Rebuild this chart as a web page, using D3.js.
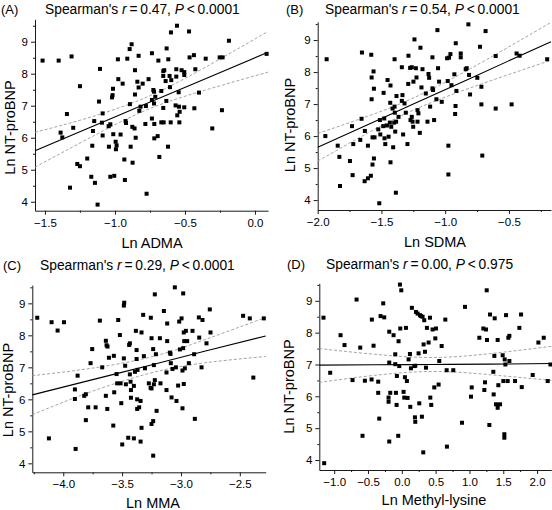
<!DOCTYPE html>
<html><head><meta charset="utf-8">
<script src="https://cdn.jsdelivr.net/npm/d3@7"></script>
<style>
body{margin:0;background:#fff}
svg{display:block}
text{font-family:"Liberation Sans",Arial,Helvetica,sans-serif;fill:#000}
</style>
</head><body>
<svg id="chart" width="552" height="510"></svg>
<script>
// ---------- data ----------
const yLabel = "Ln NT-proBNP";
const panelLetters = ["(A)", "(B)", "(C)", "(D)"];
const rhoValues = ["0.47", "0.54", "0.29", "0.00"];
const pValues = ["0.0001", "0.0001", "0.0001", "0.975"];
const xLabels = ["Ln ADMA", "Ln SDMA", "Ln MMA", "Ln Methyl-lysine"];
const yTicks = [4, 5, 6, 7, 8, 9];
const xTicksA = [-1.5, -1.0, -0.5, 0.0];
const xTicksB = [-2.0, -1.5, -1.0, -0.5];
const xTicksC = [-4.0, -3.5, -3.0, -2.5];
const xTicksD = [-1.0, -0.5, 0.0, 0.5, 1.0, 1.5, 2.0];

const admaX = [-1.517,-1.402,-1.310,-1.250,-1.343,-1.388,-1.376,-1.298,-1.321,-1.269,-1.250,-1.198,-1.162,-1.157,-1.148,-1.114,-1.107,-1.088,-1.093,-1.088,-1.169,-1.143,-1.124,-1.045,-1.033,-1.043,-1.033,-1.005,-1.021,-1.017,-1.014,-1.012,-0.995,-0.988,-0.993,-0.979,-0.976,-0.960,-0.945,-0.933,-0.929,-0.921,-0.924,-0.912,-0.895,-0.881,-0.893,-0.888,-0.876,-0.860,-0.852,-0.874,-0.857,-0.857,-0.840,-0.831,-0.831,-0.802,-0.826,-0.817,-0.779,-0.783,-0.774,-0.760,-0.736,-0.736,-0.721,-0.726,-0.712,-0.736,-0.721,-0.719,-0.695,-0.719,-0.683,-0.690,-0.655,-0.648,-0.655,-0.638,-0.631,-0.619,-0.610,-0.607,-0.598,-0.669,-0.633,-0.655,-0.669,-0.652,-0.602,-0.621,-0.600,-0.557,-0.562,-0.562,-0.567,-0.543,-0.555,-0.538,-0.545,-0.540,-0.524,-0.505,-0.505,-0.505,-0.471,-0.467,-0.436,-0.426,-0.433,-0.400,-0.352,-0.305,-0.252,-0.231,-0.236,-0.186,0.083];
const admaY = [8.41,8.41,8.54,7.61,6.74,6.16,6.01,6.31,4.44,5.18,5.11,5.35,5.75,6.21,6.52,7.13,8.15,6.76,6.47,6.07,4.78,4.59,3.91,6.36,6.42,5.72,4.78,4.81,7.26,7.33,7.53,6.11,5.875,5.76,5.64,8.45,7.83,6.10,7.69,5.32,4.68,6.46,6.52,8.47,8.77,8.92,7.05,5.72,6.34,6.29,6.00,5.22,8.11,7.35,7.75,7.57,8.56,7.69,6.84,6.97,6.99,6.43,4.25,7.83,8.64,6.60,7.44,7.49,7.28,7.18,7.07,6.43,6.05,5.98,5.40,8.41,8.08,8.11,7.93,7.77,8.79,8.45,7.93,7.58,7.80,7.46,7.15,6.93,6.48,6.48,6.48,5.72,9.29,9.50,8.14,7.91,7.01,6.97,6.70,6.81,7.42,6.48,8.11,8.05,7.96,6.95,9.32,8.51,8.58,8.14,6.92,7.41,8.47,6.29,8.51,8.51,6.86,9.03,8.62];

const sdmaX = [-1.93,-1.94,-1.843,-1.830,-1.825,-1.731,-1.747,-1.721,-1.726,-1.653,-1.656,-1.666,-1.630,-1.632,-1.606,-1.606,-1.580,-1.577,-1.577,-1.570,-1.562,-1.559,-1.554,-1.570,-1.559,-1.583,-1.525,-1.512,-1.509,-1.517,-1.486,-1.483,-1.478,-1.476,-1.470,-1.457,-1.452,-1.444,-1.434,-1.431,-1.429,-1.423,-1.429,-1.413,-1.408,-1.400,-1.397,-1.397,-1.395,-1.392,-1.385,-1.387,-1.382,-1.366,-1.340,-1.335,-1.340,-1.330,-1.319,-1.309,-1.290,-1.296,-1.288,-1.275,-1.262,-1.272,-1.262,-1.256,-1.251,-1.249,-1.241,-1.230,-1.225,-1.217,-1.217,-1.210,-1.199,-1.194,-1.186,-1.178,-1.152,-1.139,-1.131,-1.126,-1.118,-1.100,-1.100,-1.095,-1.087,-1.069,-1.056,-1.061,-1.048,-1.027,-0.985,-0.980,-0.975,-0.975,-0.970,-0.959,-0.951,-0.928,-0.922,-0.919,-0.917,-0.912,-0.878,-0.878,-0.839,-0.831,-0.813,-0.805,-0.818,-0.727,-0.748,-0.716,-0.716,-0.683,-0.709,-0.604,-0.604,-0.479,-0.440,-0.416,-0.200];
const sdmaY = [8.40,6.00,5.70,5.35,4.44,6.31,5.22,5.75,4.78,8.61,6.54,5.88,6.16,4.59,4.68,5.70,8.54,7.83,7.15,5.96,8.02,7.48,5.96,5.11,5.30,4.76,6.21,6.50,6.05,3.90,6.31,7.35,6.55,5.93,5.75,6.33,7.75,5.98,6.42,7.04,7.58,6.29,5.18,6.86,5.65,6.42,8.40,6.92,6.73,6.14,6.45,4.23,7.25,6.60,8.15,7.28,7.10,6.05,7.02,6.73,7.63,5.75,8.51,8.13,8.15,6.50,6.60,6.45,6.29,7.70,9.02,8.12,7.83,6.81,6.45,6.71,6.10,8.76,7.52,8.09,7.33,6.45,7.94,7.82,6.92,8.46,7.49,7.44,6.50,7.15,8.12,9.31,7.70,7.07,8.43,7.72,5.70,4.80,8.45,8.56,7.59,7.93,6.69,6.94,8.90,7.41,8.58,8.46,8.09,8.12,7.91,7.30,9.49,8.79,7.82,7.54,6.99,9.28,5.39,8.50,6.86,6.99,8.58,8.51,8.40];

const mmaX = [-4.221,-4.099,-4.048,-3.994,-4.122,-3.901,-3.901,-3.878,-3.895,-3.822,-3.808,-3.808,-3.788,-3.754,-3.768,-3.725,-3.689,-3.669,-3.638,-3.632,-3.624,-3.612,-3.638,-3.626,-3.575,-3.570,-3.567,-3.547,-3.542,-3.533,-3.519,-3.513,-3.507,-3.499,-3.485,-3.482,-3.485,-3.474,-3.468,-3.448,-3.440,-3.434,-3.434,-3.428,-3.425,-3.425,-3.400,-3.400,-3.391,-3.383,-3.377,-3.377,-3.369,-3.372,-3.372,-3.355,-3.343,-3.343,-3.335,-3.335,-3.321,-3.315,-3.306,-3.273,-3.258,-3.256,-3.250,-3.250,-3.250,-3.236,-3.236,-3.236,-3.230,-3.230,-3.222,-3.222,-3.213,-3.207,-3.179,-3.174,-3.145,-3.123,-3.123,-3.117,-3.117,-3.094,-3.089,-3.086,-3.080,-3.072,-3.052,-3.043,-3.038,-3.024,-3.015,-3.009,-2.995,-2.987,-2.981,-2.981,-2.976,-2.972,-2.967,-2.987,-2.976,-2.958,-2.947,-2.933,-2.902,-2.888,-2.882,-2.848,-2.845,-2.825,-2.817,-2.783,-2.755,-2.749,-2.472,-2.415,-2.385,-2.296];
const mmaY = [8.55,8.41,8.15,8.41,4.78,6.01,6.31,6.74,4.45,6.11,6.16,5.35,5.75,7.57,7.13,5.75,8.46,7.00,7.83,7.69,7.65,7.30,6.11,5.70,5.18,7.36,6.22,6.79,6.50,8.48,8.01,6.50,5.88,4.59,8.93,9.02,7.28,7.05,6.47,4.80,7.70,7.75,6.78,6.55,6.29,6.05,6.42,4.78,6.86,8.14,7.54,7.26,6.92,6.00,5.70,5.75,5.95,4.68,8.09,5.11,8.64,7.35,6.97,6.50,6.36,8.55,7.91,6.34,5.23,5.32,7.57,4.24,6.47,7.07,9.28,6.60,7.41,5.64,7.91,6.50,8.76,6.84,6.29,8.37,7.82,7.46,7.42,7.13,6.06,6.95,9.50,7.00,5.95,6.43,8.43,7.56,8.53,6.90,7.60,9.31,8.09,7.82,6.97,5.72,6.48,8.14,7.82,7.13,8.14,7.41,5.39,8.56,7.93,7.00,8.48,7.75,8.81,8.09,8.61,8.53,6.68,8.53];

const mlysX = [-1.158,-1.148,-1.059,-0.906,-0.847,-0.729,-0.669,-0.615,-0.581,-0.546,-0.447,-0.443,-0.418,-0.349,-0.349,-0.334,-0.314,-0.275,-0.260,-0.196,-0.186,-0.186,-0.186,-0.171,-0.196,-0.122,-0.097,-0.097,-0.087,-0.073,-0.077,-0.053,-0.048,-0.038,-0.028,-0.008,-0.023,0.026,0.036,0.061,0.046,0.075,0.085,0.100,0.120,0.125,0.135,0.149,0.184,0.194,0.199,0.199,0.209,0.233,0.248,0.258,0.268,0.283,0.307,0.297,0.317,0.322,0.332,0.342,0.357,0.371,0.396,0.416,0.421,0.435,0.455,0.480,0.495,0.505,0.544,0.554,0.589,0.643,0.663,0.667,0.761,0.890,0.934,1.023,1.033,1.146,1.205,1.220,1.230,1.245,1.255,1.259,1.294,1.304,1.353,1.358,1.373,1.368,1.393,1.417,1.417,1.427,1.452,1.491,1.501,1.516,1.516,1.521,1.541,1.531,1.565,1.575,1.590,1.590,1.674,1.738,1.773,1.763,2.157,2.098,2.197,2.019,1.935];
const mlysY = [8.47,3.90,6.74,7.92,7.61,6.51,9.04,7.53,4.76,6.49,6.53,8.41,7.59,6.46,6.11,5.30,8.52,8.92,8.48,5.96,8.03,7.06,4.58,6.11,5.83,7.92,7.32,7.01,6.11,6.64,5.73,4.76,7.73,6.95,9.51,9.33,8.13,6.14,5.96,8.15,6.60,6.48,5.95,7.16,7.33,5.67,6.88,8.78,6.95,5.34,5.20,6.96,8.65,8.60,7.35,5.78,8.55,8.52,8.50,5.36,4.24,7.63,8.39,7.40,6.90,8.15,7.69,8.47,5.96,5.73,8.10,6.28,7.82,8.13,6.37,7.11,7.58,8.41,6.82,4.42,6.82,5.17,8.81,5.99,6.28,7.84,8.13,6.20,6.44,8.10,9.33,7.77,5.10,8.57,6.77,6.06,8.45,7.27,5.75,5.64,7.77,6.35,5.75,7.29,6.48,4.81,4.70,7.16,8.55,7.00,6.48,7.84,7.90,7.11,6.48,8.15,6.29,8.57,6.48,7.84,7.00,7.69,6.67];

// regression line and 95% confidence band, read at a few x positions
const fitXA = [-1.571, -1.2, -0.8, -0.4, 0.093];
const fitA  = [5.59, 6.28, 7.02, 7.76, 8.67];
const hiA   = [6.17, 6.61, 7.22, 8.09, 9.32];
const loA   = [5.08, 5.95, 6.82, 7.43, 8.05];
const fitXB = [-2.0, -1.6, -1.25, -0.8, -0.17];
const fitB  = [5.65, 6.37, 7.00, 7.81, 8.95];
const hiB   = [6.08, 6.63, 7.19, 8.11, 9.55];
const loB   = [5.22, 6.11, 6.81, 7.51, 8.37];
const fitXC = [-4.263, -3.8, -3.27, -2.8, -2.28];
const fitC  = [6.14, 6.57, 7.06, 7.50, 7.98];
const hiC   = [6.74, 6.95, 7.31, 7.86, 8.56];
const loC   = [5.52, 6.19, 6.81, 7.14, 7.34];
const fitXD = [-1.22, -0.4, 0.45, 1.3, 2.21];
const fitD  = [6.98, 6.99, 7.00, 7.01, 7.03];
const hiD   = [7.50, 7.32, 7.22, 7.34, 7.57];
const loD   = [6.44, 6.66, 6.78, 6.68, 6.50];

// ---------- layout ----------
const panels = [
  {xs: admaX, ys: admaY, xDom: [-1.571, 0.093], xRange: [35, 268], yDom: [3.72, 9.70], yRange: [210.7, 19.3],
   xTicks: xTicksA, fx: fitXA, fit: fitA, hi: hiA, lo: loA,
   letterPos: [1, 14], titlePos: [45, 14], xLabPos: [152, 248], yLabPos: [15, 127.5]},
  {xs: sdmaX, ys: sdmaY, xDom: [-2.0, -0.17], xRange: [317.7, 551], yDom: [3.69, 9.57], yRange: [210, 21.8],
   xTicks: xTicksB, fx: fitXB, fit: fitB, hi: hiB, lo: loB,
   letterPos: [286, 14], titlePos: [325, 14], xLabPos: [435, 246.5], yLabPos: [295, 125]},
  {xs: mmaX, ys: mmaY, xDom: [-4.263, -2.28], xRange: [32.3, 265.7], yDom: [3.72, 9.57], yRange: [472.3, 285.1],
   xTicks: xTicksC, fx: fitXC, fit: fitC, hi: hiC, lo: loC,
   letterPos: [3, 270], titlePos: [40, 270], xLabPos: [153, 508], yLabPos: [13, 390]},
  {xs: mlysX, ys: mlysY, xDom: [-1.22, 2.21], xRange: [319.3, 551.3], yDom: [3.686, 9.55], yRange: [470, 283.3],
   xTicks: xTicksD, fx: fitXD, fit: fitD, hi: hiD, lo: loD,
   letterPos: [287, 269], titlePos: [326, 269], xLabPos: [434, 505], yLabPos: [294, 386.5]}
];

const svg = d3.select("#chart");
const axisColor = "#1a1a1a";

panels.forEach((p, i) => {
  const x = d3.scaleLinear().domain(p.xDom).range(p.xRange);
  const y = d3.scaleLinear().domain(p.yDom).range(p.yRange);
  const g = svg.append("g");
  const x0 = p.xRange[0], y0 = p.yRange[0];

  // minor ticks
  const xStep = p.xTicks[1] - p.xTicks[0];
  const xMinor = [];
  for (let k = -1; k < p.xTicks.length; k++) {
    const v = p.xTicks[0] + (k + 0.5) * xStep;
    if (v >= p.xDom[0] - 1e-9 && v <= p.xDom[1] + 1e-9) xMinor.push(v);
  }
  const yMinor = yTicks.map(t => t + 0.5).concat([3.5]).filter(v => v >= p.yDom[0] && v <= p.yDom[1]);

  g.append("g").attr("transform", `translate(0,${y0})`)
    .call(d3.axisBottom(x).tickValues(p.xTicks).tickFormat(d3.format(".1f")).tickSize(4).tickSizeOuter(0).tickPadding(4));
  g.append("g").attr("transform", `translate(0,${y0})`)
    .call(d3.axisBottom(x).tickValues(xMinor).tickFormat("").tickSize(2).tickSizeOuter(0))
    .select(".domain").remove();
  g.append("g").attr("transform", `translate(${x0},0)`)
    .call(d3.axisLeft(y).tickValues(yTicks).tickFormat(d3.format("d")).tickSize(4).tickSizeOuter(0).tickPadding(3));
  g.append("g").attr("transform", `translate(${x0},0)`)
    .call(d3.axisLeft(y).tickValues(yMinor).tickFormat("").tickSize(2).tickSizeOuter(0))
    .select(".domain").remove();
  g.selectAll(".domain, .tick line").attr("stroke", axisColor).attr("stroke-width", 1);
  g.selectAll(".tick text").attr("font-size", 11.5).attr("fill", "#111")
    .style("font-family", '"Liberation Sans", Arial, sans-serif');

  // confidence band + fit
  const pts = arr => p.fx.map((v, k) => [x(v), y(arr[k])]);
  const curve = d3.line().curve(d3.curveNatural);
  [p.hi, p.lo].forEach(arr => {
    g.append("path").attr("d", curve(pts(arr))).attr("fill", "none")
      .attr("stroke", "#9a9a9a").attr("stroke-width", 0.9).attr("stroke-dasharray", "3,2");
  });
  g.append("path").attr("d", curve(pts(p.fit))).attr("fill", "none")
    .attr("stroke", "#000").attr("stroke-width", 1.1);

  // points
  g.selectAll("rect.pt").data(p.xs.map((v, k) => [v, p.ys[k]])).enter().append("rect")
    .attr("class", "pt")
    .attr("x", d => x(d[0]) - 2).attr("y", d => y(d[1]) - 2)
    .attr("width", 4).attr("height", 4).attr("fill", "#000");

  // labels
  g.append("text").attr("x", p.letterPos[0]).attr("y", p.letterPos[1]).attr("font-size", 13).text(panelLetters[i]);
  const t = g.append("text").attr("x", p.titlePos[0]).attr("y", p.titlePos[1]).attr("font-size", 13.8);
  t.append("tspan").text("Spearman's ");
  t.append("tspan").attr("font-style", "italic").text("r");
  t.append("tspan").text("\u2009=\u2009" + rhoValues[i] + ", ");
  t.append("tspan").attr("font-style", "italic").text("P");
  t.append("tspan").text("\u2009<\u2009" + pValues[i]);

  g.append("text").attr("x", p.xLabPos[0]).attr("y", p.xLabPos[1]).attr("text-anchor", "middle")
    .attr("font-size", 14.5).text(xLabels[i]);
  g.append("text").attr("transform", `translate(${p.yLabPos[0]},${p.yLabPos[1]}) rotate(-90)`)
    .attr("text-anchor", "middle").attr("font-size", 14.5).text(yLabel);
});
</script>
</body></html>
